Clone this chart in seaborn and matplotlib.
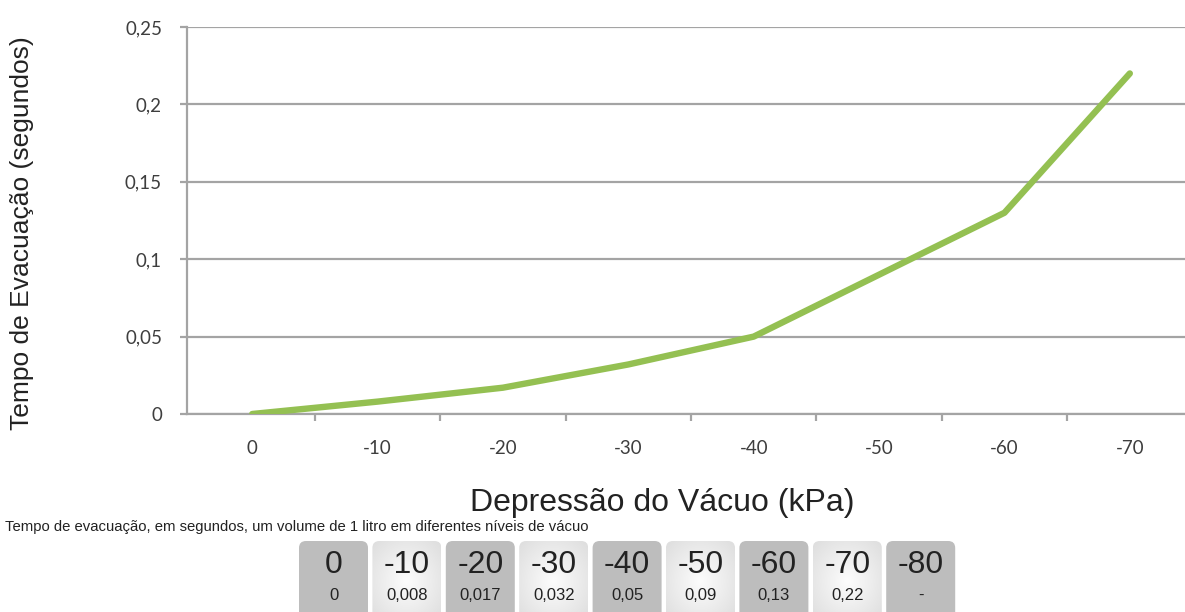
import matplotlib.pyplot as plt
import numpy as np
import pandas as pd
import seaborn as sns
from matplotlib.patches import FancyBboxPatch
from matplotlib.ticker import FixedLocator, FuncFormatter

pressures = ["0", "-10", "-20", "-30", "-40", "-50", "-60", "-70"]
times = [0, 0.008, 0.017, 0.032, 0.05, 0.09, 0.13, 0.22]
y_ticks = [0, 0.05, 0.1, 0.15, 0.2, 0.25]
table_pressures = pressures + ["-80"]
table_times = ["0", "0,008", "0,017", "0,032", "0,05", "0,09", "0,13", "0,22", "-"]

df = pd.DataFrame({"pos": np.arange(len(pressures)), "tempo": times})

sns.set_theme(style="white")
plt.rcParams["font.family"] = ["Liberation Sans", "DejaVu Sans"]

W, H = 1185, 612
fig = plt.figure(figsize=(W / 100, H / 100), dpi=100)

grey = "#a4a4a4"
ax = fig.add_axes([187 / W, 1 - 414 / H, (W - 187) / W, (414 - 27) / H])
sns.lineplot(data=df, x="pos", y="tempo", ax=ax, color="#94c052", lw=4.6,
             solid_capstyle="round", solid_joinstyle="round", zorder=5)

ax.set_xlim(-0.52, 7.44)
ax.set_ylim(0, 0.25)
ax.set_yticks(y_ticks)
ax.yaxis.set_major_formatter(FuncFormatter(lambda v, _: f"{v:g}".replace(".", ",")))
ax.set_xticks(df["pos"])
ax.set_xticklabels(pressures)
ax.xaxis.set_minor_locator(FixedLocator(np.arange(len(pressures) - 1) + 0.5))

ax.grid(axis="y", color=grey, lw=1.6)
ax.grid(axis="x", visible=False)
for side in ["top", "right"]:
    ax.spines[side].set_visible(False)
for side in ["left", "bottom"]:
    ax.spines[side].set_color(grey)
    ax.spines[side].set_linewidth(1.6)

ax.tick_params(axis="y", left=True, length=5, width=1.6, color=grey, pad=13)
ax.tick_params(axis="x", which="major", bottom=False, length=0, pad=19)
ax.tick_params(axis="x", which="minor", bottom=True, length=5, width=1.6, color=grey)
for t in ax.get_xticklabels() + ax.get_yticklabels():
    t.set_fontfamily(["Lato", "DejaVu Sans"])
    t.set_fontsize(13.5)
    t.set_color("#3e3e3e")

ax.set_xlabel("")
ax.set_ylabel("")

fig.text(22 / W, 1 - 233 / H, "Tempo de Evacuação (segundos)", rotation=90,
         ha="center", va="center", fontsize=19, color="#222222")
fig.text(662 / W, 1 - 503 / H, "Depressão do Vácuo (kPa)",
         ha="center", va="center", fontsize=23, color="#222222")
fig.text(5 / W, 1 - 527 / H,
         "Tempo de evacuação, em segundos, um volume de 1 litro em diferentes níveis de vácuo",
         ha="left", va="center", fontsize=10.7, color="#222222")

# Table of values under the chart
tab = fig.add_axes([0, 0, 1, 1], zorder=-1)
tab.set_xlim(0, W)
tab.set_ylim(H, 0)
tab.axis("off")

box_w, box_h, top, left0, pitch = 69, 80, 541, 299, 73.4
yy, xx = np.mgrid[0:1:60j, 0:1:60j]
r = np.sqrt((xx - 0.5) ** 2 + (yy - 0.5) ** 2) / 0.7
r = np.clip(r, 0, 1)[..., None]
light = (1 - r) * np.array([0.99, 0.99, 0.99]) + r * np.array([0.87, 0.87, 0.87])

for i, (p, t) in enumerate(zip(table_pressures, table_times)):
    x0 = left0 + i * pitch
    patch = FancyBboxPatch((x0, top), box_w, box_h, boxstyle="round,pad=0,rounding_size=7",
                           lw=0, facecolor="#bdbdbd" if i % 2 == 0 else "none")
    tab.add_patch(patch)
    if i % 2 == 1:
        im = tab.imshow(light, extent=(x0, x0 + box_w, top + box_h, top), aspect="auto")
        im.set_clip_path(patch)
    tab.text(x0 + box_w / 2, top + 24, p, ha="center", va="center", fontsize=23, color="#222222")
    tab.text(x0 + box_w / 2, top + 54, t, ha="center", va="center", fontsize=12, color="#222222")

tab.set_xlim(0, W)
tab.set_ylim(H, 0)

fig.savefig("out.png", dpi=100)
